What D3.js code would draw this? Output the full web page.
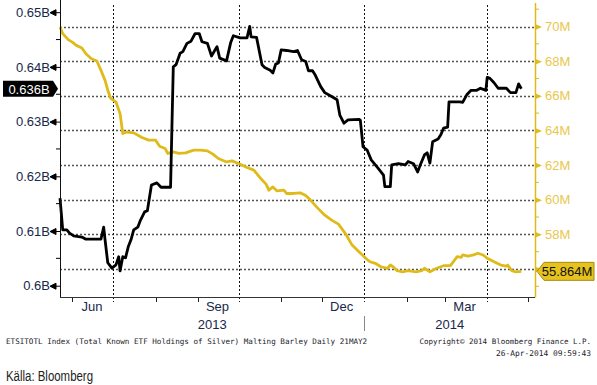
<!DOCTYPE html>
<html>
<head>
<meta charset="utf-8">
<script src="https://cdn.jsdelivr.net/npm/d3@7"></script>
<style>
  body { margin: 0; background: #fff; }
  svg { display: block; }
</style>
</head>
<body>
<svg id="chart"></svg>
<script>
// ETF holdings of silver (billions), left axis
var silverDates = ["2013-05-23","2013-05-25","2013-05-28","2013-05-30","2013-06-02","2013-06-08","2013-06-11","2013-06-22","2013-06-24","2013-06-25","2013-06-27","2013-06-30","2013-07-03","2013-07-05","2013-07-06","2013-07-08","2013-07-10","2013-07-12","2013-07-14","2013-07-16","2013-07-19","2013-07-21","2013-07-24","2013-07-26","2013-07-29","2013-08-02","2013-08-05","2013-08-12","2013-08-14","2013-08-16","2013-08-19","2013-08-21","2013-08-24","2013-08-27","2013-08-30","2013-09-02","2013-09-04","2013-09-08","2013-09-11","2013-09-15","2013-09-17","2013-09-22","2013-09-25","2013-09-27","2013-10-02","2013-10-07","2013-10-09","2013-10-10","2013-10-14","2013-10-18","2013-10-20","2013-10-24","2013-10-26","2013-10-28","2013-10-30","2013-11-01","2013-11-05","2013-11-10","2013-11-13","2013-11-16","2013-11-19","2013-11-21","2013-11-24","2013-11-26","2013-11-30","2013-12-03","2013-12-08","2013-12-12","2013-12-14","2013-12-17","2013-12-20","2013-12-28","2013-12-29","2013-12-30","2013-12-31","2014-01-03","2014-01-06","2014-01-11","2014-01-15","2014-01-16","2014-01-20","2014-01-21","2014-01-26","2014-01-31","2014-02-02","2014-02-06","2014-02-09","2014-02-11","2014-02-14","2014-02-16","2014-02-18","2014-02-20","2014-02-24","2014-02-26","2014-02-28","2014-03-03","2014-03-04","2014-03-07","2014-03-12","2014-03-14","2014-03-17","2014-03-20","2014-03-24","2014-03-27","2014-03-31","2014-04-01","2014-04-03","2014-04-06","2014-04-09","2014-04-15","2014-04-18","2014-04-22","2014-04-24","2014-04-26"]
var silverValues = [0.6160,0.6102,0.6102,0.6096,0.6091,0.6089,0.6085,0.6085,0.6107,0.6084,0.6042,0.6032,0.6038,0.6053,0.6027,0.6053,0.6051,0.6071,0.6084,0.6102,0.6107,0.6120,0.6135,0.6137,0.6184,0.6188,0.6180,0.6180,0.6400,0.6404,0.6425,0.6428,0.6443,0.6447,0.6461,0.6461,0.6446,0.6443,0.6420,0.6437,0.6416,0.6411,0.6444,0.6457,0.6453,0.6453,0.6474,0.6455,0.6454,0.6404,0.6399,0.6394,0.6389,0.6405,0.6407,0.6431,0.6430,0.6428,0.6430,0.6413,0.6410,0.6393,0.6393,0.6385,0.6364,0.6353,0.6346,0.6340,0.6312,0.6297,0.6303,0.6304,0.6303,0.6279,0.6254,0.6248,0.6230,0.6215,0.6202,0.6181,0.6181,0.6221,0.6223,0.6221,0.6227,0.6223,0.6208,0.6221,0.6239,0.6243,0.6224,0.6263,0.6268,0.6276,0.6288,0.6290,0.6336,0.6336,0.6336,0.6335,0.6349,0.6357,0.6357,0.6361,0.6357,0.6381,0.6379,0.6371,0.6361,0.6361,0.6353,0.6353,0.6369,0.6360]

// Malting barley (millions), right axis
var barleyDates = ["2013-05-23","2013-05-25","2013-05-29","2013-06-01","2013-06-04","2013-06-08","2013-06-11","2013-06-15","2013-06-19","2013-06-22","2013-06-25","2013-06-27","2013-06-29","2013-07-03","2013-07-06","2013-07-08","2013-07-11","2013-07-16","2013-07-22","2013-07-27","2013-08-01","2013-08-04","2013-08-08","2013-08-10","2013-08-14","2013-08-18","2013-08-23","2013-08-29","2013-09-03","2013-09-08","2013-09-12","2013-09-16","2013-09-22","2013-09-26","2013-10-02","2013-10-07","2013-10-12","2013-10-17","2013-10-21","2013-10-23","2013-10-26","2013-10-29","2013-11-03","2013-11-05","2013-11-10","2013-11-15","2013-11-19","2013-11-22","2013-11-28","2013-12-03","2013-12-08","2013-12-13","2013-12-18","2013-12-23","2013-12-28","2014-01-02","2014-01-05","2014-01-09","2014-01-13","2014-01-18","2014-01-20","2014-01-22","2014-01-25","2014-01-29","2014-02-02","2014-02-08","2014-02-12","2014-02-14","2014-02-18","2014-02-23","2014-02-28","2014-03-05","2014-03-10","2014-03-13","2014-03-14","2014-03-18","2014-03-22","2014-03-25","2014-03-29","2014-04-01","2014-04-06","2014-04-11","2014-04-15","2014-04-16","2014-04-19","2014-04-22","2014-04-26"]
var barleyValues = [69.97,69.59,69.24,69.10,68.91,68.76,68.43,68.14,68.01,67.47,66.89,66.32,65.87,65.64,64.97,63.82,63.91,63.86,63.59,63.44,63.44,63.09,62.96,62.67,62.76,62.67,62.70,62.86,62.86,62.82,62.63,62.38,62.18,62.24,62.05,61.86,61.71,61.23,60.90,60.55,60.74,60.51,60.55,60.36,60.36,60.40,60.24,60.02,59.50,59.11,58.82,58.59,58.06,57.38,57.00,56.62,56.42,56.33,56.13,56.04,56.23,56.13,55.90,55.84,55.90,55.84,55.90,56.04,55.84,56.04,56.19,56.19,56.71,56.67,56.81,56.75,56.81,56.91,56.81,56.62,56.42,56.23,56.17,56.23,55.90,55.84,55.864]

var leftTicks = [0.6, 0.61, 0.62, 0.63, 0.64, 0.65]
var leftMinor = [0.605, 0.615, 0.625, 0.635, 0.645]
var rightTicks = [56, 58, 60, 62, 64, 66, 68, 70]
var rightHidden = [56]   // label sits under the last-value tag
var rightMinor = [55, 57, 59, 61, 63, 65, 67, 69, 71]
var monthLabelDates = ["2013-06-15", "2013-09-15", "2013-12-15", "2014-03-15"]
var yearLabels = ["2013", "2014"]
var lastSilver = "0.636B"
var lastBarley = "55.864M"

var dimensions = {
  width: 597,
  height: 385,
  margin: { top: 3, bottom: 88, left: 60, right: 62 }
}

var parse = d3.timeParse("%Y-%m-%d")
var silver = silverDates.map((d, i) => ({ date: parse(d), value: silverValues[i] }))
var barley = barleyDates.map((d, i) => ({ date: parse(d), value: barleyValues[i] }))

var svg = d3.select("#chart")
  .attr("width", dimensions.width)
  .attr("height", dimensions.height)
  .style("font-family", "'Liberation Sans', Arial, sans-serif")

var plotLeft = dimensions.margin.left
var plotRight = dimensions.width - dimensions.margin.right
var plotBottom = dimensions.height - dimensions.margin.bottom
var plotTop = dimensions.margin.top

var xScale = d3.scaleTime()
  .domain([new Date(2013, 4, 23), new Date(2014, 4, 6)])
  .range([plotLeft, plotRight])

var yLeft = d3.scaleLinear()
  .domain([0.6, 0.65])
  .range([285.7, 12.2])

var yRight = d3.scaleLinear()
  .domain([56, 70])
  .range([269, 26.5])

var navy = "#17284a"
var gold = "#dfbb1a"
var goldText = "#e9c74c"

// gridlines
svg.append("g")
  .selectAll("line")
  .data(rightTicks)
  .enter()
  .append("line")
  .attr("x1", plotLeft).attr("x2", plotRight)
  .attr("y1", d => Math.round(yRight(d)) + 0.5)
  .attr("y2", d => Math.round(yRight(d)) + 0.5)
  .attr("stroke", "#555")
  .attr("stroke-width", 1.3)
  .attr("stroke-dasharray", "2,2")

var months = d3.timeMonth.range(new Date(2013, 5, 1), new Date(2014, 4, 2))
var quarterStarts = months.filter(d => d.getMonth() % 3 === 0)

svg.append("g")
  .selectAll("line")
  .data(quarterStarts)
  .enter()
  .append("line")
  .attr("x1", d => Math.round(xScale(d)) + 0.5)
  .attr("x2", d => Math.round(xScale(d)) + 0.5)
  .attr("y1", plotTop + 2).attr("y2", plotBottom + 5)
  .attr("stroke", "#111")
  .attr("stroke-width", 1)
  .attr("stroke-dasharray", "2,2")

// month ticks
svg.append("g")
  .selectAll("line")
  .data(months.filter(d => d.getMonth() % 3 !== 0))
  .enter()
  .append("line")
  .attr("x1", d => Math.round(xScale(d)) + 0.5)
  .attr("x2", d => Math.round(xScale(d)) + 0.5)
  .attr("y1", plotBottom).attr("y2", plotBottom + 5)
  .attr("stroke", "#222")

// lines
var lineRight = d3.line()
  .x(d => xScale(d.date))
  .y(d => yRight(d.value))

var lineLeft = d3.line()
  .x(d => xScale(d.date))
  .y(d => yLeft(d.value))

svg.append("path")
  .datum(barley)
  .attr("fill", "none")
  .attr("stroke", gold)
  .attr("stroke-width", 2.8)
  .attr("stroke-linejoin", "round")
  .attr("d", lineRight)

svg.append("path")
  .datum(silver)
  .attr("fill", "none")
  .attr("stroke", "#000")
  .attr("stroke-width", 2.8)
  .attr("stroke-linejoin", "round")
  .attr("d", lineLeft)

// axis lines
svg.append("line")
  .attr("x1", plotLeft + 0.5).attr("x2", plotLeft + 0.5)
  .attr("y1", 0).attr("y2", plotBottom)
  .attr("stroke", "#111")
svg.append("line")
  .attr("x1", plotRight + 0.5).attr("x2", plotRight + 0.5)
  .attr("y1", plotTop).attr("y2", plotBottom + 0.5)
  .attr("stroke", gold)
  .attr("stroke-width", 1.5)
svg.append("line")
  .attr("x1", plotLeft).attr("x2", plotRight)
  .attr("y1", plotBottom + 0.5).attr("y2", plotBottom + 0.5)
  .attr("stroke", "#333")

// left axis
var yAxisLeftGen = d3.axisLeft(yLeft)
  .tickValues(leftTicks)
  .tickFormat(d => d3.format(".2~f")(d) + "B")
  .tickSize(0)
  .tickPadding(10)

var yAxisLeft = svg.append("g")
  .call(yAxisLeftGen)
  .style("transform", `translateX(${plotLeft}px)`)
yAxisLeft.select(".domain").remove()
yAxisLeft.selectAll("text")
  .attr("fill", navy)
  .style("font-size", "13px")
  .style("font-family", "'Liberation Sans', Arial, sans-serif")
yAxisLeft.selectAll(".tick")
  .append("path")
  .attr("d", "M-10,0 L-4,-3 L-4,3 Z M-4,0 L0,0")
  .attr("fill", "#000")
  .attr("stroke", "#000")

svg.append("g")
  .selectAll("line")
  .data(leftMinor)
  .enter()
  .append("line")
  .attr("x1", plotLeft - 4).attr("x2", plotLeft)
  .attr("y1", d => yLeft(d)).attr("y2", d => yLeft(d))
  .attr("stroke", "#000")

// right axis
var yAxisRightGen = d3.axisRight(yRight)
  .tickValues(rightTicks)
  .tickFormat(d => rightHidden.includes(d) ? "" : d + "M")
  .tickSize(0)
  .tickPadding(10)

var yAxisRight = svg.append("g")
  .call(yAxisRightGen)
  .style("transform", `translateX(${plotRight}px)`)
yAxisRight.select(".domain").remove()
yAxisRight.selectAll("text")
  .attr("fill", goldText)
  .style("font-size", "13px")
  .style("font-family", "'Liberation Sans', Arial, sans-serif")
yAxisRight.selectAll(".tick")
  .append("path")
  .attr("d", "M0,-3 L7,0 L0,3 Z")
  .attr("fill", gold)

svg.append("g")
  .selectAll("line")
  .data(rightMinor)
  .enter()
  .append("line")
  .attr("x1", plotRight).attr("x2", plotRight + 4)
  .attr("y1", d => yRight(d)).attr("y2", d => yRight(d))
  .attr("stroke", gold)

// bottom axis labels
var xAxisGen = d3.axisBottom(xScale)
  .tickValues(monthLabelDates.map(parse))
  .tickFormat(d3.timeFormat("%b"))
  .tickSize(0)
  .tickPadding(5)

var xAxis = svg.append("g")
  .call(xAxisGen)
  .style("transform", `translateY(${plotBottom}px)`)
xAxis.select(".domain").remove()
xAxis.selectAll("text")
  .attr("fill", navy)
  .style("font-size", "13px")
  .style("font-family", "'Liberation Sans', Arial, sans-serif")

var yearStart = xScale(new Date(2014, 0, 1))
var yearCenters = [(plotLeft + yearStart) / 2, (yearStart + plotRight) / 2]
svg.append("g")
  .selectAll("text")
  .data(yearLabels)
  .enter()
  .append("text")
  .attr("x", (d, i) => yearCenters[i])
  .attr("y", 329)
  .attr("text-anchor", "middle")
  .attr("fill", navy)
  .style("font-size", "13px")
  .text(d => d)

svg.append("line")
  .attr("x1", Math.round(yearStart) + 0.5).attr("x2", Math.round(yearStart) + 0.5)
  .attr("y1", 316).attr("y2", 331)
  .attr("stroke", "#888")

// last value tags
var ySil = yLeft(silverValues[silverValues.length - 1])
svg.append("path")
  .attr("d", `M3,${ySil - 8} L53,${ySil - 8} L58,${ySil} L53,${ySil + 8} L3,${ySil + 8} Z`)
  .attr("fill", "#000")
svg.append("text")
  .attr("x", 29).attr("y", ySil + 5)
  .attr("text-anchor", "middle")
  .attr("fill", "#fff")
  .style("font-size", "13px")
  .text(lastSilver)

var yBar = yRight(barleyValues[barleyValues.length - 1])
svg.append("path")
  .attr("d", `M537,${yBar} L544,${yBar - 9} L594,${yBar - 9} L594,${yBar + 9} L544,${yBar + 9} Z`)
  .attr("fill", "#e5c21d")
  .attr("stroke", "#a88c10")
svg.append("text")
  .attr("x", 567).attr("y", yBar + 5)
  .attr("text-anchor", "middle")
  .attr("fill", "#111")
  .style("font-size", "13px")
  .text(lastBarley)

// footer
var footer = svg.append("g")
  .style("font-family", "'DejaVu Sans Mono', monospace")
  .attr("fill", "#1a1a2a")
footer.append("text")
  .attr("x", 6).attr("y", 344)
  .style("font-size", "7.6px")
  .text("ETSITOTL Index (Total Known ETF Holdings of Silver) Malting Barley  Daily 21MAY2")
footer.append("text")
  .attr("x", 591).attr("y", 344)
  .attr("text-anchor", "end")
  .style("font-size", "7.5px")
  .text("Copyright\u00a9 2014 Bloomberg Finance L.P.")
footer.append("text")
  .attr("x", 591).attr("y", 356)
  .attr("text-anchor", "end")
  .style("font-size", "7.9px")
  .text("26-Apr-2014 09:59:43")

svg.append("text")
  .attr("x", 6).attr("y", 381)
  .attr("fill", "#222")
  .attr("textLength", 87).attr("lengthAdjust", "spacingAndGlyphs")
  .style("font-size", "14px")
  .text("Källa: Bloomberg")
</script>
</body>
</html>
